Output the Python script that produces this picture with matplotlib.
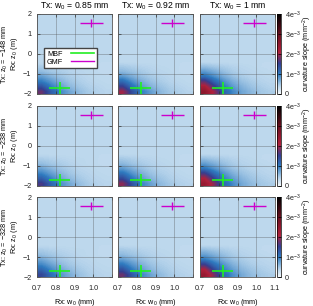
import numpy as np
import matplotlib
matplotlib.use("Agg")
import matplotlib.pyplot as plt
from matplotlib.colors import LinearSegmentedColormap
from matplotlib.lines import Line2D

plt.rcParams.update({
    "font.family": ["Liberation Sans", "DejaVu Sans"],
    "font.size": 5.2,
    "axes.unicode_minus": True,
    "mathtext.fontset": "custom",
    "mathtext.rm": "Liberation Sans",
    "mathtext.it": "Liberation Sans",
})

# grid: x 0.7..1.1 (8 cells), y -2..2 (16 cells of 0.25)
X_EDGES = (0.7, 1.1)
Y_EDGES = (-2.0, 2.0)
TX_W0 = ["0.85", "0.92", "1"]
TX_Z0 = ["\u2212148", "\u2212238", "\u2212328"]
BACKGROUND = [0.36, 0.36, 0.36]  # 1e-3 mm^-2, upper region per row

# bottom six rows (y = -1.875 ... -0.625), columns x = 0.725 ... 1.075, units 1e-3
SLOPE_R1C1 = [[1.75, 1.25, 0.92, 0.72, 0.57, 0.48, 0.43, 0.40],
              [1.35, 1.0, 0.78, 0.6, 0.5, 0.44, 0.41, 0.38],
              [1.0, 0.82, 0.64, 0.52, 0.45, 0.41, 0.38, 0.37],
              [0.78, 0.64, 0.53, 0.46, 0.42, 0.39, 0.37, 0.36],
              [0.57, 0.5, 0.46, 0.42, 0.40, 0.38, 0.36, 0.35],
              [0.46, 0.44, 0.42, 0.40, 0.38, 0.37, 0.36, 0.35]]
SLOPE_R1C2 = [[2.0, 1.4, 1.0, 0.78, 0.6, 0.5, 0.45, 0.41],
              [1.55, 1.1, 0.82, 0.64, 0.53, 0.46, 0.42, 0.39],
              [1.15, 0.88, 0.68, 0.55, 0.47, 0.42, 0.39, 0.37],
              [0.82, 0.68, 0.56, 0.48, 0.43, 0.40, 0.37, 0.36],
              [0.6, 0.53, 0.48, 0.43, 0.40, 0.38, 0.36, 0.35],
              [0.48, 0.45, 0.42, 0.40, 0.38, 0.37, 0.36, 0.35]]
SLOPE_R1C3 = [[2.5, 2.0, 1.25, 0.92, 0.72, 0.6, 0.5, 0.46],
              [2.2, 1.6, 1.05, 0.8, 0.63, 0.53, 0.46, 0.42],
              [1.7, 1.2, 0.88, 0.68, 0.55, 0.47, 0.42, 0.40],
              [1.1, 0.88, 0.7, 0.55, 0.47, 0.42, 0.40, 0.38],
              [0.8, 0.68, 0.56, 0.47, 0.42, 0.40, 0.38, 0.36],
              [0.56, 0.5, 0.46, 0.42, 0.40, 0.38, 0.36, 0.35]]
SLOPE_R2C1 = [[1.6, 1.2, 0.88, 0.7, 0.56, 0.47, 0.42, 0.40],
              [1.25, 0.96, 0.74, 0.59, 0.49, 0.43, 0.40, 0.38],
              [0.96, 0.78, 0.62, 0.51, 0.44, 0.41, 0.38, 0.37],
              [0.74, 0.62, 0.52, 0.46, 0.41, 0.39, 0.37, 0.36],
              [0.56, 0.5, 0.46, 0.42, 0.39, 0.37, 0.36, 0.35],
              [0.46, 0.43, 0.41, 0.39, 0.38, 0.37, 0.36, 0.35]]
SLOPE_R2C2 = [[1.9, 1.35, 0.96, 0.76, 0.59, 0.5, 0.44, 0.41],
              [1.45, 1.05, 0.8, 0.62, 0.52, 0.45, 0.41, 0.39],
              [1.1, 0.85, 0.67, 0.54, 0.46, 0.42, 0.39, 0.37],
              [0.8, 0.67, 0.55, 0.47, 0.42, 0.40, 0.37, 0.36],
              [0.6, 0.52, 0.47, 0.43, 0.40, 0.38, 0.36, 0.35],
              [0.48, 0.45, 0.42, 0.40, 0.38, 0.37, 0.36, 0.35]]
SLOPE_R2C3 = [[2.4, 1.9, 1.2, 0.9, 0.7, 0.58, 0.5, 0.46],
              [2.1, 1.5, 1.0, 0.78, 0.62, 0.52, 0.46, 0.42],
              [1.6, 1.15, 0.86, 0.66, 0.54, 0.47, 0.42, 0.40],
              [1.05, 0.85, 0.68, 0.54, 0.47, 0.42, 0.40, 0.38],
              [0.78, 0.66, 0.55, 0.47, 0.42, 0.40, 0.38, 0.36],
              [0.55, 0.5, 0.46, 0.42, 0.40, 0.38, 0.36, 0.35]]
SLOPE_R3C1 = [[1.45, 1.12, 0.84, 0.67, 0.54, 0.46, 0.42, 0.40],
              [1.18, 0.92, 0.72, 0.58, 0.49, 0.43, 0.40, 0.38],
              [0.92, 0.75, 0.6, 0.5, 0.44, 0.41, 0.38, 0.37],
              [0.72, 0.6, 0.51, 0.45, 0.41, 0.39, 0.37, 0.36],
              [0.55, 0.5, 0.45, 0.42, 0.39, 0.37, 0.36, 0.35],
              [0.46, 0.43, 0.41, 0.39, 0.38, 0.37, 0.36, 0.35]]
SLOPE_R3C2 = [[1.75, 1.3, 0.94, 0.74, 0.58, 0.49, 0.44, 0.41],
              [1.38, 1.02, 0.78, 0.61, 0.51, 0.45, 0.41, 0.39],
              [1.05, 0.83, 0.66, 0.53, 0.46, 0.42, 0.39, 0.37],
              [0.78, 0.66, 0.55, 0.47, 0.42, 0.40, 0.37, 0.36],
              [0.58, 0.52, 0.47, 0.43, 0.40, 0.38, 0.36, 0.35],
              [0.48, 0.45, 0.42, 0.40, 0.38, 0.37, 0.36, 0.35]]
SLOPE_R3C3 = [[2.4, 1.85, 1.18, 0.88, 0.69, 0.57, 0.5, 0.46],
              [2.1, 1.45, 0.98, 0.77, 0.61, 0.52, 0.46, 0.42],
              [1.55, 1.12, 0.84, 0.65, 0.53, 0.46, 0.42, 0.40],
              [1.02, 0.83, 0.67, 0.54, 0.47, 0.42, 0.40, 0.38],
              [0.76, 0.65, 0.55, 0.47, 0.42, 0.40, 0.38, 0.36],
              [0.55, 0.5, 0.46, 0.42, 0.40, 0.38, 0.36, 0.35]]
SLOPES = [[SLOPE_R1C1, SLOPE_R1C2, SLOPE_R1C3],
          [SLOPE_R2C1, SLOPE_R2C2, SLOPE_R2C3],
          [SLOPE_R3C1, SLOPE_R3C2, SLOPE_R3C3]]

# fit results (Rx w0 mm, Rx z0 m) with error bars
MBF_X, MBF_Y, MBF_XERR, MBF_YERR = 0.82, -1.68, 0.058, 0.3
GMF_X, GMF_Y, GMF_XERR, GMF_YERR = 0.99, 1.55, 0.06, 0.2

CBAR_TICKS = [0, 1, 2, 3, 4]
CBAR_LABELS = ["0", "1e$^{-3}$", "2e$^{-3}$", "3e$^{-3}$", "4e$^{-3}$"]

cmap = LinearSegmentedColormap.from_list("slope", [
    (0.00, "#f4f8fc"), (0.10, "#b8d5ec"), (0.25, "#2f7bc0"),
    (0.38, "#353f90"), (0.52, "#b0213c"), (0.75, "#680f1e"), (1.00, "#000000")])

W, H = 313, 306
fig = plt.figure(figsize=(W / 100, H / 100), dpi=100)


def px_axes(left, top, width, height):
    return fig.add_axes([left / W, 1 - (top + height) / H, width / W, height / H])


COL_LEFT = [37, 118, 200]
ROW_TOP = [14, 106, 197]
PW, PH = 75, 80

for r in range(3):
    for c in range(3):
        ax = px_axes(COL_LEFT[c], ROW_TOP[r], PW, PH)
        bottom = np.array(SLOPES[r][c])
        upper = np.full((10, bottom.shape[1]), BACKGROUND[r])
        field = np.vstack([bottom, upper])
        im = ax.imshow(field, origin="lower", cmap=cmap, vmin=0, vmax=4,
                       extent=[*X_EDGES, *Y_EDGES], aspect="auto",
                       interpolation="bilinear")
        ax.errorbar(MBF_X, MBF_Y, xerr=MBF_XERR, yerr=MBF_YERR, color="#22ee22",
                    lw=1.2, capsize=0, zorder=4)
        ax.errorbar(GMF_X, GMF_Y, xerr=GMF_XERR, yerr=GMF_YERR, color="#cc00cc",
                    lw=1.0, capsize=0, zorder=4)
        ax.set_xlim(*X_EDGES)
        ax.set_ylim(*Y_EDGES)
        ax.set_xticks([0.7, 0.8, 0.9, 1.0, 1.1])
        ax.set_yticks([-2, -1, 0, 1, 2])
        ax.grid(True, color="#555555", lw=0.5, alpha=0.5)
        ax.tick_params(direction="in", length=2.5, width=0.5, colors="#333333",
                       labelcolor="#222222", top=True, right=True)
        ax.tick_params(axis="x", pad=6)
        ax.tick_params(axis="y", pad=4)
        for sp in ax.spines.values():
            sp.set_linewidth(0.6)
            sp.set_color("#555555")
        if r == 2:
            labels = ["0.7", "0.8", "0.9", "1.0", "1.1" if c == 2 else ""]
            ax.set_xticklabels(labels)
            ax.set_xlabel("Rx: w$_0$ (mm)", labelpad=3)
        else:
            ax.set_xticklabels([])
        if c == 0:
            ax.set_yticklabels(["\u22122", "\u22121", "0", "1", "2"])
            ax.set_ylabel("Tx: z$_0$ = %s mm\nRx: z$_0$ (m)" % TX_Z0[r],
                          labelpad=2, linespacing=0.9)
        else:
            ax.set_yticklabels([])
        if r == 0:
            ax.set_title("Tx: w$_0$ = %s mm" % TX_W0[c], pad=4)
        if r == 0 and c == 0:
            handles = [Line2D([0], [0], color="#22ee22", lw=1.2, label="MBF"),
                       Line2D([0], [0], color="#cc00cc", lw=1.0, label="GMF")]
            ax.legend(handles=handles, loc="upper left",
                      bbox_to_anchor=(0.04, 0.62), markerfirst=False,
                      fancybox=False, edgecolor="#444444", framealpha=1,
                      handlelength=3.2, handletextpad=1.2, borderpad=0.35,
                      labelspacing=0.15, fontsize=5.2)

    cax = px_axes(277, ROW_TOP[r], 4, PH)
    cb = fig.colorbar(im, cax=cax, ticks=CBAR_TICKS)
    cb.ax.set_yticklabels(CBAR_LABELS)
    cb.ax.tick_params(direction="in", length=2, width=0.5, pad=3, labelsize=5.2,
                      labelcolor="#222222")
    cb.outline.set_linewidth(0.5)
    cb.set_label("curvature slope (mm$^{-2}$)", labelpad=0)

fig.savefig("out.png", dpi=100)
